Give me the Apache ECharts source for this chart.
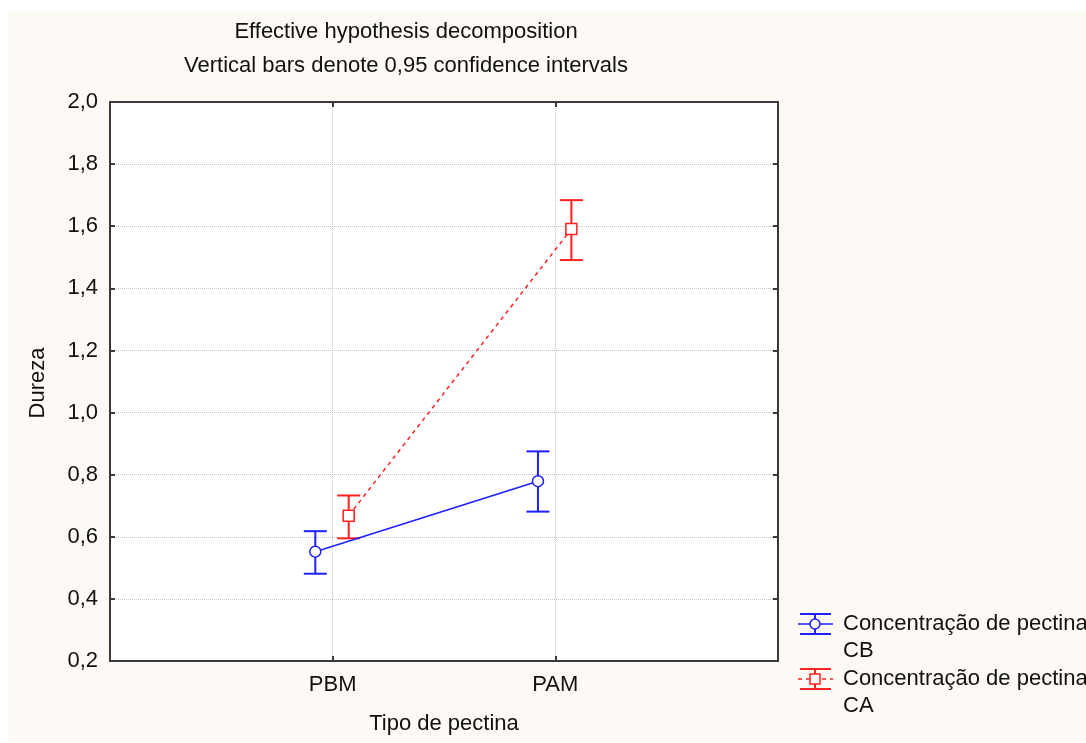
<!DOCTYPE html>
<html>
<head>
<meta charset="utf-8">
<script src="https://cdn.jsdelivr.net/npm/echarts@6/dist/echarts.min.js"></script>
<style>
html,body{margin:0;padding:0;background:#ffffff;}
#chart{width:1086px;height:743px;}
</style>
</head>
<body>
<div id="chart"></div>
<script>
// ---- data ----
const categories = ['PBM', 'PAM'];
const categoryPos = [1, 2];
const cbMean = [0.552, 0.779];
const cbLow  = [0.481, 0.681];
const cbHigh = [0.618, 0.875];
const caMean = [0.668, 1.591];
const caLow  = [0.595, 1.491];
const caHigh = [0.733, 1.684];
const yMin = 0.2, yMax = 2.0, yStep = 0.2;
const titleLines = ['Effective hypothesis decomposition', 'Vertical bars denote 0,95 confidence intervals'];
const seriesNames = ['Concentração de pectina\nCB', 'Concentração de pectina\nCA'];
const xName = 'Tipo de pectina';
const yName = 'Dureza';

// ---- layout / style ----
const FONT = '"Liberation Sans", Arial, sans-serif';
const FS = 22;
const BLUE = '#1f1fff';
const RED = '#ff2020';
const AXIS = '#3a3a3a';
const cbOffset = -0.078, caOffset = 0.072;

const chart = echarts.init(document.getElementById('chart'), null, {renderer: 'canvas'});

function pts(means, off) { return means.map((m, i) => [categoryPos[i] + off, m]); }
function bars(lo, hi, off) { return lo.map((l, i) => [categoryPos[i] + off, l, hi[i]]); }

function errRender(color) {
  return function (params, api) {
    const x = api.value(0);
    const a = api.coord([x, api.value(1)]);
    const b = api.coord([x, api.value(2)]);
    const h = 11.5;
    const st = {stroke: color, lineWidth: 2};
    return {type: 'group', children: [
      {type: 'line', shape: {x1: a[0], y1: a[1], x2: b[0], y2: b[1]}, style: st},
      {type: 'line', shape: {x1: a[0] - h, y1: a[1], x2: a[0] + h, y2: a[1]}, style: st},
      {type: 'line', shape: {x1: b[0] - h, y1: b[1], x2: b[0] + h, y2: b[1]}, style: st}
    ]};
  };
}

const gl = 110, gt = 102, gr = 778, gb = 661;

const legendItems = [];
function legendEntry(y, color, symbol, dashed, text) {
  const cx = 815;
  const st = {stroke: color, lineWidth: 2};
  legendItems.push({type: 'line', shape: {x1: 800, y1: y - 10, x2: 831, y2: y - 10}, style: st});
  legendItems.push({type: 'line', shape: {x1: 800, y1: y + 10, x2: 831, y2: y + 10}, style: st});
  legendItems.push({type: 'line', shape: {x1: cx, y1: y - 10, x2: cx, y2: y + 10}, style: st});
  legendItems.push({type: 'line', shape: {x1: 798, y1: y, x2: 833, y2: y},
    style: {stroke: color, lineWidth: 1.5, lineDash: dashed ? [4, 4] : null}});
  if (symbol === 'circle') {
    legendItems.push({type: 'circle', shape: {cx: cx, cy: y, r: 5}, style: {fill: '#fff', stroke: color, lineWidth: 1.5}, z2: 5});
  } else {
    legendItems.push({type: 'rect', shape: {x: cx - 5, y: y - 5, width: 10, height: 10}, style: {fill: '#fff', stroke: color, lineWidth: 1.5}, z2: 5});
  }
  legendItems.push({type: 'text', x: 843, y: y - 14, style: {text: text, font: FS + 'px ' + FONT, fill: '#111', lineHeight: 27, verticalAlign: 'top'}});
}
legendEntry(624, BLUE, 'circle', false, seriesNames[0]);
legendEntry(679, RED, 'rect', true, seriesNames[1]);

const option = {
  backgroundColor: '#ffffff',
  animation: false,
  textStyle: {fontFamily: FONT},
  graphic: [
    {type: 'rect', shape: {x: 8, y: 12, width: 1078, height: 730}, style: {fill: '#fdf9f4'}, z: -10, silent: true},
    {type: 'text', x: 406, y: 32, style: {text: titleLines[0], font: FS + 'px ' + FONT, fill: '#111', align: 'center', verticalAlign: 'middle'}},
    {type: 'text', x: 406, y: 66, style: {text: titleLines[1], font: FS + 'px ' + FONT, fill: '#111', align: 'center', verticalAlign: 'middle'}},
    {type: 'text', x: 38, y: 383, rotation: Math.PI / 2, style: {text: yName, font: FS + 'px ' + FONT, fill: '#111', align: 'center', verticalAlign: 'middle'}},
    {type: 'text', x: 444, y: 724, style: {text: xName, font: FS + 'px ' + FONT, fill: '#111', align: 'center', verticalAlign: 'middle'}},
    {type: 'group', children: legendItems}
  ],
  grid: {left: gl, top: gt, width: gr - gl, height: gb - gt, show: true, backgroundColor: '#ffffff', borderWidth: 0, containLabel: false},
  xAxis: [{
    type: 'value', min: 0, max: 3, interval: 1, position: 'bottom',
    axisLine: {show: true, onZero: false, lineStyle: {color: AXIS, width: 2}},
    axisTick: {show: true, inside: true, length: 5, lineStyle: {color: AXIS, width: 2}},
    axisLabel: {margin: 13, color: '#111', fontSize: FS, fontFamily: FONT,
      formatter: v => { const i = categoryPos.indexOf(v); return i >= 0 ? categories[i] : ''; }},
    splitLine: {show: true, lineStyle: {color: '#c4c4c4', type: 'dotted', width: 1}}
  }, {
    type: 'value', min: 0, max: 3, interval: 1, position: 'top',
    axisLine: {show: true, onZero: false, lineStyle: {color: AXIS, width: 2}},
    axisTick: {show: true, inside: true, length: 5, lineStyle: {color: AXIS, width: 2}},
    axisLabel: {show: false}, splitLine: {show: false}
  }],
  yAxis: [{
    type: 'value', min: yMin, max: yMax, interval: yStep, position: 'left',
    axisLine: {show: true, onZero: false, lineStyle: {color: AXIS, width: 2}},
    axisTick: {show: true, inside: true, length: 5, lineStyle: {color: AXIS, width: 2}},
    axisLabel: {margin: 12, color: '#111', fontSize: FS, fontFamily: FONT,
      formatter: v => v.toFixed(1).replace('.', ',')},
    splitLine: {show: true, lineStyle: {color: '#c4c4c4', type: 'dotted', width: 1}}
  }, {
    type: 'value', min: yMin, max: yMax, interval: yStep, position: 'right',
    axisLine: {show: true, onZero: false, lineStyle: {color: AXIS, width: 2}},
    axisTick: {show: true, inside: true, length: 5, lineStyle: {color: AXIS, width: 2}},
    axisLabel: {show: false}, splitLine: {show: false}
  }],
  series: [
    {type: 'custom', name: 'cb-err', renderItem: errRender(BLUE), data: bars(cbLow, cbHigh, cbOffset), z: 3, silent: true},
    {type: 'custom', name: 'ca-err', renderItem: errRender(RED), data: bars(caLow, caHigh, caOffset), z: 3, silent: true},
    {type: 'line', name: seriesNames[0], data: pts(cbMean, cbOffset), symbol: 'circle', symbolSize: 11,
      lineStyle: {color: BLUE, width: 1.5}, itemStyle: {color: '#ffffff', borderColor: BLUE, borderWidth: 1.5}, z: 4},
    {type: 'line', name: seriesNames[1], data: pts(caMean, caOffset), symbol: 'rect', symbolSize: 11,
      lineStyle: {color: RED, width: 1.5, type: [4, 4]}, itemStyle: {color: '#ffffff', borderColor: RED, borderWidth: 1.5}, z: 4}
  ]
};
chart.setOption(option);
</script>
</body>
</html>
